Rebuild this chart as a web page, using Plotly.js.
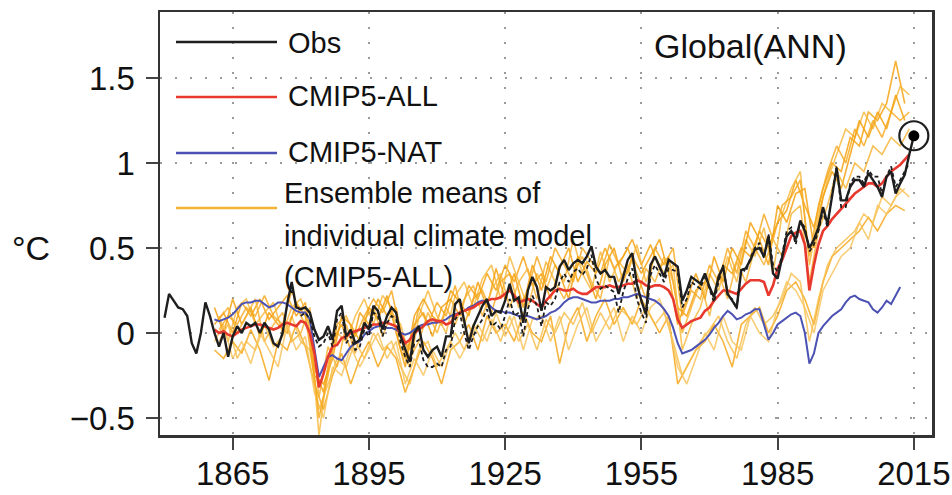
<!DOCTYPE html>
<html><head><meta charset="utf-8">
<script src="https://cdn.plot.ly/plotly-3.0.1.min.js"></script>
<style>html,body{margin:0;padding:0;background:#fff}#chart{width:952px;height:495px}</style>
</head><body><div id="chart"></div>
<script>
function years(a, b, step) { const r = []; for (let y = a; y <= b; y += step) r.push(y); return r; }

// ---------- DATA ----------
const obsYears = years(1850, 2015, 1);
const obsValues = [
 0.09,0.23,0.19,0.15,0.14,0.10,-0.06,-0.12,0.00,0.18,
 0.10,0.00,-0.08,0.00,-0.14,-0.02,0.04,0.00,0.06,0.04,
 0.06,0.00,0.06,0.02,-0.06,-0.08,0.00,0.17,0.30,0.15,
 0.14,0.15,0.12,0.02,-0.04,-0.02,0.04,-0.04,0.13,0.16,
 -0.02,0.02,-0.06,-0.04,0.06,0.02,0.16,0.13,0.02,0.10,
 0.15,0.12,-0.02,-0.10,-0.17,0.00,0.04,-0.10,-0.14,-0.10,
 -0.08,-0.14,-0.02,-0.02,0.17,0.20,0.06,-0.06,0.04,0.10,
 0.16,0.20,0.10,0.13,0.12,0.19,0.29,0.19,0.21,0.06,
 0.25,0.33,0.27,0.13,0.27,0.25,0.27,0.39,0.43,0.37,
 0.41,0.43,0.41,0.45,0.51,0.39,0.35,0.37,0.33,0.33,
 0.23,0.33,0.43,0.47,0.29,0.19,0.11,0.40,0.45,0.39,
 0.33,0.43,0.41,0.39,0.19,0.25,0.33,0.31,0.29,0.35,
 0.27,0.21,0.33,0.39,0.23,0.19,0.15,0.37,0.38,0.43,
 0.49,0.50,0.45,0.57,0.35,0.32,0.45,0.57,0.60,0.55,
 0.66,0.60,0.50,0.55,0.62,0.74,0.64,0.80,0.97,0.78,
 0.78,0.86,0.90,0.90,0.86,0.94,0.90,0.86,0.80,0.92,
 0.95,0.82,0.88,0.93,1.05,1.16
];
const obsAltYears = years(1880, 2014, 1);
const obsAltValues = [
 0.10,0.12,0.08,-0.02,-0.08,-0.06,0.00,-0.08,0.08,0.12,
 -0.06,-0.02,-0.10,-0.08,0.02,-0.02,0.12,0.10,-0.02,0.06,
 0.10,0.08,-0.06,-0.14,-0.20,-0.06,-0.04,-0.16,-0.20,-0.20,
 -0.18,-0.20,-0.10,-0.08,0.08,0.12,0.00,-0.10,-0.02,0.04,
 0.08,0.14,0.04,0.06,0.02,0.10,0.20,0.10,0.12,-0.02,
 0.14,0.22,0.16,0.04,0.18,0.16,0.20,0.30,0.35,0.30,
 0.36,0.38,0.34,0.38,0.46,0.32,0.26,0.28,0.26,0.24,
 0.12,0.24,0.32,0.38,0.20,0.12,0.06,0.34,0.40,0.35,
 0.30,0.38,0.37,0.36,0.15,0.20,0.30,0.28,0.26,0.34,
 0.26,0.18,0.30,0.40,0.22,0.20,0.14,0.38,0.36,0.44,
 0.50,0.53,0.44,0.58,0.40,0.36,0.46,0.60,0.62,0.52,
 0.66,0.62,0.48,0.52,0.60,0.72,0.62,0.82,0.98,0.74,
 0.74,0.88,0.92,0.92,0.88,0.96,0.92,0.92,0.82,0.92,
 0.98,0.86,0.90,0.95,1.00
];
const allYears = years(1861, 2014, 1);
const allValues = [
 0.02,0.00,0.01,-0.01,-0.02,0.00,0.02,0.03,0.04,0.05,
 0.05,0.04,0.03,0.02,0.03,0.05,0.06,0.05,0.04,0.07,
 0.06,0.00,-0.12,-0.32,-0.24,-0.14,-0.08,-0.07,-0.03,-0.02,
 0.00,0.01,0.02,0.03,0.04,0.05,0.05,0.06,0.06,0.05,
 0.04,-0.01,-0.06,-0.04,0.00,0.02,0.04,0.07,0.08,0.07,
 0.07,0.05,0.06,0.10,0.12,0.13,0.14,0.15,0.17,0.18,
 0.19,0.20,0.20,0.21,0.23,0.25,0.22,0.18,0.19,0.20,
 0.19,0.17,0.15,0.19,0.22,0.25,0.26,0.25,0.25,0.26,
 0.24,0.23,0.23,0.25,0.27,0.27,0.27,0.28,0.27,0.27,
 0.28,0.29,0.29,0.31,0.30,0.28,0.27,0.28,0.28,0.27,
 0.25,0.20,0.08,0.03,0.05,0.07,0.08,0.09,0.13,0.15,
 0.19,0.22,0.25,0.25,0.24,0.23,0.26,0.29,0.31,0.31,
 0.31,0.30,0.22,0.28,0.38,0.43,0.50,0.57,0.59,0.60,
 0.52,0.25,0.40,0.52,0.60,0.63,0.67,0.70,0.73,0.76,
 0.79,0.82,0.84,0.86,0.88,0.88,0.86,0.88,0.92,0.95,
 0.97,0.99,1.02,1.05
];
const natYears = years(1861, 2012, 1);
const natValues = [
 0.08,0.07,0.08,0.09,0.11,0.14,0.17,0.18,0.18,0.19,
 0.19,0.17,0.15,0.16,0.18,0.18,0.17,0.15,0.13,0.12,
 0.12,0.08,-0.10,-0.26,-0.20,-0.14,-0.13,-0.15,-0.16,-0.12,
 -0.08,-0.06,-0.05,-0.01,0.01,0.03,0.04,0.04,0.03,0.03,
 0.02,0.00,-0.01,0.00,0.02,0.04,0.05,0.05,0.06,0.06,
 0.07,0.08,0.10,0.11,0.12,0.13,0.15,0.16,0.18,0.19,
 0.18,0.15,0.13,0.13,0.12,0.12,0.11,0.10,0.10,0.10,
 0.09,0.08,0.09,0.10,0.12,0.13,0.15,0.18,0.20,0.21,
 0.21,0.20,0.19,0.18,0.18,0.19,0.19,0.19,0.20,0.20,
 0.21,0.21,0.22,0.23,0.22,0.21,0.20,0.19,0.17,0.14,
 0.10,0.03,-0.06,-0.12,-0.11,-0.10,-0.08,-0.06,-0.04,-0.01,
 0.03,0.06,0.10,0.13,0.11,0.08,0.09,0.11,0.12,0.14,
 0.14,0.05,-0.04,0.00,0.05,0.07,0.09,0.11,0.12,0.10,
 0.00,-0.18,-0.12,0.00,0.04,0.07,0.10,0.12,0.14,0.18,
 0.21,0.22,0.20,0.19,0.18,0.14,0.12,0.15,0.19,0.17,
 0.22,0.27
];
const modelYearsOdd = years(1861, 2013, 2);
const modelYearsEven = years(1862, 2014, 2);
const modelA = [0.05,0.12,0.00,0.18,0.10,0.20,0.08,0.15,0.22,0.10,0.18,-0.20,-0.35,-0.05,0.05,-0.10,0.12,0.05,0.20,0.10,0.15,-0.15,0.05,0.12,-0.02,0.15,0.20,0.10,0.28,0.20,0.35,0.25,0.40,0.30,0.45,0.28,0.35,0.20,0.38,0.50,0.30,0.42,0.35,0.50,0.38,0.45,0.55,0.40,0.52,0.38,0.45,0.15,0.10,0.25,0.30,0.22,0.40,0.35,0.50,0.45,0.60,0.50,0.65,0.72,0.90,0.75,0.62,0.85,1.00,0.95,1.15,1.10,1.30,1.25,1.35,1.60,1.35];
const modelB = [0.10,-0.05,0.15,0.20,0.05,0.12,0.18,0.00,0.15,0.20,0.05,-0.60,-0.20,0.00,-0.05,0.10,0.20,0.05,0.22,0.15,-0.10,-0.20,0.10,0.25,0.10,0.00,0.22,0.30,0.15,0.32,0.40,0.20,0.45,0.30,0.15,0.35,0.25,0.40,0.30,0.55,0.35,0.25,0.48,0.30,0.42,0.35,0.52,0.30,0.45,0.35,0.40,-0.10,0.05,0.15,0.35,0.25,0.45,0.30,0.55,0.45,0.62,0.35,0.70,0.85,0.95,0.40,0.70,0.90,1.05,1.20,1.15,1.30,1.20,1.35,1.30,1.45,1.40];
const modelC = [-0.10,-0.15,-0.05,-0.12,0.02,-0.10,-0.28,-0.05,-0.10,0.05,-0.08,-0.30,-0.45,-0.25,-0.12,-0.30,-0.15,-0.05,-0.20,-0.08,-0.15,-0.35,-0.20,-0.05,-0.15,-0.30,-0.10,-0.05,0.05,-0.10,0.10,0.00,0.05,-0.05,0.12,0.00,-0.05,0.10,-0.18,0.05,0.15,-0.05,0.10,0.20,0.05,0.15,0.05,0.20,0.10,0.00,0.10,-0.30,-0.20,-0.10,-0.05,0.05,-0.05,-0.20,0.05,0.10,0.15,0.00,0.10,0.25,0.30,0.20,0.05,0.30,0.45,0.50,0.55,0.60,0.68,0.60,0.70,0.75,0.72];
const modelD = [-0.05,0.05,-0.15,-0.05,-0.10,0.05,-0.08,-0.02,0.10,-0.05,-0.10,-0.45,-0.30,-0.15,-0.20,-0.05,-0.15,0.00,-0.10,-0.05,-0.20,-0.30,-0.10,-0.05,-0.20,-0.10,0.00,-0.10,0.05,-0.05,0.08,-0.05,0.10,-0.05,0.05,-0.10,0.08,0.00,0.12,0.05,0.18,0.00,0.12,0.02,0.15,0.10,0.05,0.15,0.05,0.12,-0.05,-0.25,-0.15,-0.05,0.02,0.10,-0.05,-0.15,0.05,0.15,0.05,0.10,0.20,0.35,0.30,-0.05,0.20,0.40,0.50,0.55,0.60,0.70,0.65,0.80,0.75,0.85,0.80];
const modelE = [0.15,0.00,0.20,0.05,0.15,-0.02,0.12,0.05,0.00,0.18,0.10,-0.25,-0.30,-0.15,0.10,0.05,-0.05,0.15,0.08,0.22,0.00,-0.20,0.10,0.20,0.10,0.05,0.25,0.18,0.10,0.30,0.15,0.38,0.20,0.35,0.15,0.40,0.25,0.45,0.35,0.20,0.45,0.35,0.20,0.40,0.50,0.30,0.45,0.35,0.45,0.55,0.35,0.05,0.20,0.35,0.20,0.45,0.30,0.50,0.40,0.65,0.55,0.40,0.75,0.65,0.82,0.85,0.50,0.80,0.95,0.85,1.05,1.25,1.15,1.30,1.20,1.40,1.25];
const modelF = [0.08,0.15,0.00,0.10,0.20,-0.05,0.05,0.12,-0.05,0.00,0.15,-0.38,-0.08,-0.20,0.05,-0.12,0.08,0.15,-0.02,0.12,0.05,-0.15,-0.05,0.12,0.00,0.15,0.05,0.20,0.28,0.10,0.25,0.35,0.15,0.30,0.38,0.20,0.42,0.30,0.20,0.35,0.45,0.30,0.20,0.45,0.30,0.40,0.20,0.38,0.30,0.45,0.30,0.00,0.15,0.30,0.10,0.35,0.20,0.42,0.30,0.50,0.40,0.55,0.45,0.70,0.75,0.30,0.60,0.75,0.95,0.85,1.00,0.95,1.10,1.05,1.15,1.10,1.20];
const modelG = [-0.05,0.05,-0.15,-0.05,-0.18,0.00,-0.10,-0.20,0.05,-0.10,-0.02,-0.35,-0.50,-0.20,-0.25,-0.08,-0.20,-0.10,0.00,-0.15,-0.05,-0.30,-0.15,-0.25,-0.10,-0.20,-0.05,-0.15,-0.05,0.05,-0.05,0.12,-0.02,0.10,-0.10,0.08,0.10,-0.05,0.10,-0.10,0.05,0.15,-0.05,0.05,0.15,-0.05,0.10,0.00,0.15,0.20,0.05,-0.20,-0.30,-0.15,0.00,-0.10,0.10,-0.05,-0.10,0.10,0.00,-0.05,0.15,0.30,0.25,0.15,0.00,0.25,0.35,0.45,0.50,0.65,0.55,0.75,0.70,0.80,0.85];
const modelH = [0.02,0.10,0.05,0.15,0.10,0.22,0.10,0.05,0.25,0.10,0.00,-0.50,-0.25,0.05,0.10,-0.02,0.10,0.20,0.12,0.25,0.00,-0.10,0.15,0.05,0.18,0.10,0.28,0.05,0.20,0.25,0.12,0.30,0.35,0.15,0.25,0.45,0.30,0.50,0.40,0.30,0.50,0.42,0.35,0.52,0.40,0.50,0.35,0.20,0.50,0.40,0.50,0.10,0.25,0.20,0.40,0.30,0.50,0.35,0.60,0.50,0.70,0.55,0.75,0.80,0.90,0.45,0.75,0.95,1.10,1.00,1.20,1.10,1.25,1.15,1.30,1.25,1.30];

const legendLabels = ['Obs', 'CMIP5-ALL', 'CMIP5-NAT', 'Ensemble means of<br>individual climate model<br>(CMIP5-ALL)'];
const xTickVals = [1865, 1895, 1925, 1955, 1985, 2015];
const yTickVals = [-0.5, 0, 0.5, 1, 1.5];
const yTickText = ['\u22120.5', '0', '0.5', '1', '1.5'];
const panelTitle = 'Global(ANN)';
const unitLabel = '\u00B0C';

// ---------- STYLE ----------
const FONT = '"Liberation Sans", Arial, sans-serif';
const C_OBS = '#1e1e1e', C_ALL = '#e8392f', C_NAT = '#4b52b3', C_ENS = '#f5b335';
const ensColors = ['rgba(245,160,10,0.82)','rgba(247,184,60,0.82)','rgba(245,165,20,0.82)','rgba(248,190,75,0.82)',
                   'rgba(244,158,5,0.82)','rgba(247,178,50,0.82)','rgba(248,195,90,0.82)','rgba(245,168,30,0.82)'];

const models = [
  [modelYearsOdd, modelA], [modelYearsEven, modelB], [modelYearsOdd, modelC], [modelYearsEven, modelD],
  [modelYearsOdd, modelE], [modelYearsEven, modelF], [modelYearsOdd, modelG], [modelYearsEven, modelH]
];

const traces = [];
models.forEach((m, i) => traces.push({
  x: m[0], y: m[1], type: 'scatter', mode: 'lines', showlegend: false,
  line: {color: ensColors[i], width: 1.6}, hoverinfo: 'skip'
}));
traces.push({x: natYears, y: natValues, type: 'scatter', mode: 'lines', showlegend: false, line: {color: C_NAT, width: 2}});
traces.push({x: allYears, y: allValues, type: 'scatter', mode: 'lines', showlegend: false, line: {color: C_ALL, width: 2.6}});
traces.push({x: obsAltYears, y: obsAltValues, type: 'scatter', mode: 'lines', showlegend: false, line: {color: C_OBS, width: 1.8, dash: '4px,3px'}});
traces.push({x: obsYears, y: obsValues, type: 'scatter', mode: 'lines', showlegend: false, line: {color: C_OBS, width: 2.4}});
const lastYear = obsYears[obsYears.length - 1], lastVal = obsValues[obsValues.length - 1];
traces.push({x: [lastYear], y: [lastVal], type: 'scatter', mode: 'markers', showlegend: false,
  marker: {symbol: 'circle-open', size: 29, color: C_OBS, line: {width: 2.2, color: C_OBS}}});
traces.push({x: [lastYear], y: [lastVal], type: 'scatter', mode: 'markers', showlegend: false,
  marker: {symbol: 'circle', size: 11, color: '#000'}});

// plot area in pixels: x 160..932, y 12..435
const PL = 160, PR = 932, PT = 12, PB = 435;
const px = v => (v - PL) / (PR - PL);
const py = v => (PB - v) / (PB - PT);

const legendColors = [C_OBS, C_ALL, C_NAT, C_ENS];
const legendLineY = [42, 97, 153, 208];
const legendTextY = [[43], [96], [152], [193, 236, 277]];
const shapes = [{type: 'rect', xref: 'paper', yref: 'paper', x0: px(164), x1: px(516), y0: py(245), y1: py(26),
  fillcolor: '#fff', line: {width: 0}, layer: 'between'}];
const annotations = [];
legendLabels.forEach((lab, i) => {
  shapes.push({type: 'line', xref: 'paper', yref: 'paper', x0: px(176), x1: px(277), y0: py(legendLineY[i]), y1: py(legendLineY[i]),
    line: {color: legendColors[i], width: 2.4}});
  lab.split('<br>').forEach((part, j) => {
    annotations.push({xref: 'paper', yref: 'paper', x: px(i === 3 ? 282 : 286), y: py(legendTextY[i][j]), text: part, showarrow: false,
      xanchor: 'left', yanchor: 'middle', align: 'left', font: {family: FONT, size: 29, color: '#111'}});
  });
});
annotations.push({xref: 'paper', yref: 'paper', x: px(750), y: py(46), text: panelTitle, showarrow: false,
  xanchor: 'center', yanchor: 'middle', font: {family: FONT, size: 34, color: '#111'}});
annotations.push({xref: 'paper', yref: 'y', x: px(31), y: 0.5, text: unitLabel, showarrow: false,
  xanchor: 'center', yanchor: 'middle', font: {family: FONT, size: 34, color: '#111'}});

const axisCommon = {
  showline: true, linecolor: '#333', linewidth: 2.5, mirror: true,
  ticks: 'outside', ticklen: 12, tickwidth: 2, tickcolor: '#444',
  showgrid: true, gridcolor: '#9a9a9a', gridwidth: 2, griddash: '2px,13px',
  zeroline: false, tickfont: {family: FONT, size: 33, color: '#111'}, ticklabeloverflow: 'allow'
};

const layout = {
  width: 952, height: 495, margin: {l: PL, r: 952 - PR, t: PT, b: 495 - PB},
  paper_bgcolor: '#fff', plot_bgcolor: '#fff', showlegend: false,
  xaxis: Object.assign({}, axisCommon, {range: [1849, 2019], tickmode: 'array', tickvals: xTickVals, ticklabelstandoff: -4}),
  yaxis: Object.assign({}, axisCommon, {range: [-0.6, 1.888], tickmode: 'array', tickvals: yTickVals, ticktext: yTickText, ticklabelstandoff: 4}),
  shapes: shapes, annotations: annotations
};

Plotly.newPlot('chart', traces, layout, {staticPlot: true, displayModeBar: false});
</script></body></html>
